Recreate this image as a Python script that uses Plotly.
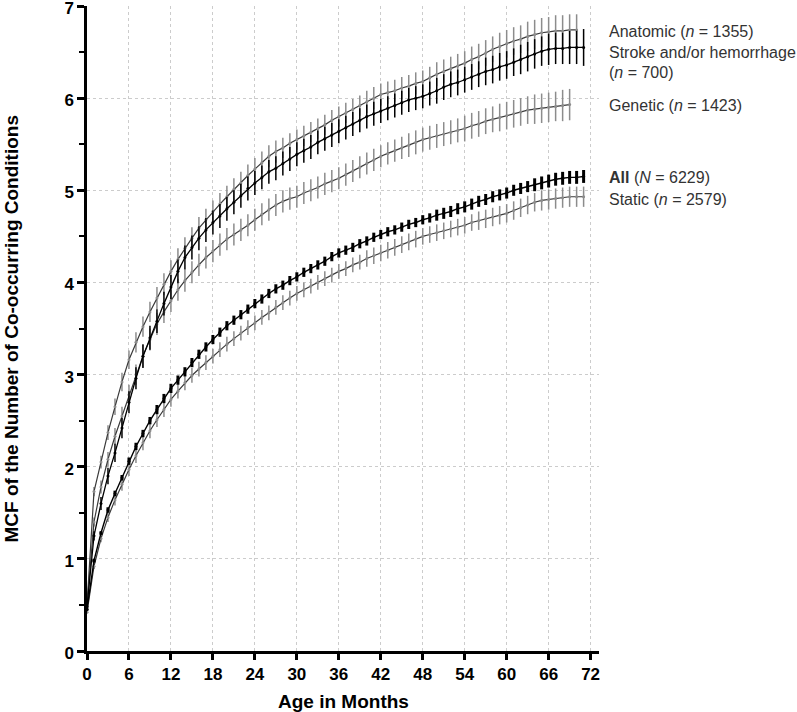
import plotly.graph_objects as go

# ---------------- data ----------------
months_anat = list(range(0, 71))
anatomic = [0.50, 1.73, 2.05, 2.37, 2.65, 2.92, 3.16, 3.35, 3.52, 3.68,
            3.83, 3.98, 4.12, 4.25, 4.37, 4.48, 4.59, 4.68, 4.77, 4.85,
            4.93, 5.01, 5.08, 5.16, 5.23, 5.30, 5.37, 5.42, 5.46, 5.51,
            5.55, 5.59, 5.63, 5.67, 5.71, 5.76, 5.80, 5.84, 5.88, 5.92,
            5.96, 6.00, 6.04, 6.06, 6.08, 6.11, 6.13, 6.16, 6.18, 6.22,
            6.26, 6.29, 6.32, 6.35, 6.38, 6.42, 6.45, 6.49, 6.53, 6.56,
            6.59, 6.62, 6.64, 6.67, 6.69, 6.71, 6.72, 6.73, 6.73, 6.74,
            6.74]
anatomic_err = [0.02, 0.05, 0.07, 0.08, 0.09, 0.10, 0.10, 0.11, 0.11, 0.11,
                0.12, 0.12, 0.12, 0.12, 0.12, 0.12, 0.12, 0.12, 0.12, 0.12,
                0.12, 0.12, 0.12, 0.12, 0.12, 0.12, 0.12, 0.12, 0.11, 0.11,
                0.11, 0.11, 0.11, 0.11, 0.11, 0.11, 0.11, 0.11, 0.11, 0.11,
                0.12, 0.12, 0.12, 0.12, 0.12, 0.12, 0.12, 0.12, 0.12, 0.12,
                0.13, 0.13, 0.13, 0.13, 0.13, 0.14, 0.14, 0.14, 0.14, 0.15,
                0.15, 0.15, 0.15, 0.16, 0.16, 0.16, 0.16, 0.17, 0.17, 0.17,
                0.17]

months_stroke = list(range(0, 72))
stroke = [0.48, 1.25, 1.60, 1.90, 2.15, 2.42, 2.70, 2.96, 3.20, 3.40,
          3.58, 3.77, 3.95, 4.12, 4.27, 4.38, 4.48, 4.57, 4.65, 4.72,
          4.80, 4.87, 4.94, 5.02, 5.08, 5.14, 5.20, 5.24, 5.29, 5.34,
          5.39, 5.43, 5.47, 5.52, 5.56, 5.60, 5.64, 5.68, 5.72, 5.76,
          5.80, 5.83, 5.86, 5.89, 5.92, 5.95, 5.98, 6.00, 6.02, 6.05,
          6.08, 6.12, 6.15, 6.17, 6.20, 6.23, 6.26, 6.29, 6.31, 6.34,
          6.36, 6.39, 6.42, 6.45, 6.48, 6.51, 6.53, 6.54, 6.54, 6.55,
          6.55, 6.55]
stroke_err = [0.02, 0.05, 0.07, 0.09, 0.10, 0.11, 0.12, 0.12, 0.13, 0.13,
              0.13, 0.13, 0.13, 0.13, 0.13, 0.13, 0.13, 0.13, 0.13, 0.13,
              0.13, 0.13, 0.13, 0.13, 0.13, 0.13, 0.13, 0.13, 0.13, 0.13,
              0.13, 0.13, 0.13, 0.13, 0.13, 0.13, 0.13, 0.13, 0.13, 0.13,
              0.13, 0.13, 0.13, 0.13, 0.13, 0.13, 0.13, 0.13, 0.13, 0.13,
              0.14, 0.14, 0.14, 0.14, 0.14, 0.14, 0.14, 0.15, 0.15, 0.15,
              0.15, 0.15, 0.16, 0.16, 0.16, 0.16, 0.17, 0.17, 0.17, 0.18,
              0.18, 0.20]

months_gen = list(range(0, 70))
genetic = [0.50, 1.40, 1.78, 2.08, 2.33, 2.55, 2.78, 3.00, 3.20, 3.38,
           3.55, 3.68, 3.80, 3.92, 4.02, 4.11, 4.19, 4.27, 4.34, 4.41,
           4.47, 4.52, 4.57, 4.62, 4.68, 4.74, 4.79, 4.84, 4.88, 4.91,
           4.93, 4.97, 5.00, 5.03, 5.07, 5.10, 5.13, 5.17, 5.21, 5.25,
           5.29, 5.33, 5.37, 5.40, 5.43, 5.46, 5.49, 5.52, 5.55, 5.57,
           5.59, 5.61, 5.63, 5.65, 5.67, 5.70, 5.72, 5.75, 5.77, 5.79,
           5.81, 5.83, 5.85, 5.87, 5.88, 5.89, 5.90, 5.91, 5.92, 5.93]
genetic_err = [0.02, 0.05, 0.07, 0.08, 0.09, 0.10, 0.11, 0.11, 0.12, 0.12,
               0.12, 0.12, 0.12, 0.12, 0.12, 0.12, 0.12, 0.12, 0.12, 0.12,
               0.12, 0.12, 0.12, 0.12, 0.12, 0.12, 0.12, 0.12, 0.12, 0.12,
               0.12, 0.12, 0.12, 0.12, 0.12, 0.12, 0.12, 0.12, 0.12, 0.12,
               0.12, 0.12, 0.12, 0.12, 0.12, 0.12, 0.13, 0.13, 0.13, 0.13,
               0.13, 0.13, 0.13, 0.13, 0.14, 0.14, 0.14, 0.14, 0.14, 0.15,
               0.15, 0.15, 0.15, 0.15, 0.16, 0.16, 0.16, 0.16, 0.17, 0.17]

months_all = list(range(0, 72))
all_mcf = [0.45, 0.98, 1.28, 1.53, 1.71, 1.88, 2.06, 2.22, 2.36, 2.50,
           2.62, 2.74, 2.85, 2.94, 3.03, 3.13, 3.22, 3.30, 3.38, 3.46,
           3.53, 3.59, 3.65, 3.71, 3.77, 3.82, 3.88, 3.93, 3.97, 4.02,
           4.06, 4.11, 4.15, 4.19, 4.23, 4.28, 4.32, 4.35, 4.38, 4.42,
           4.45, 4.49, 4.52, 4.55, 4.57, 4.60, 4.63, 4.65, 4.68, 4.70,
           4.73, 4.75, 4.77, 4.80, 4.82, 4.85, 4.88, 4.90, 4.93, 4.95,
           4.97, 5.00, 5.02, 5.04, 5.06, 5.08, 5.10, 5.12, 5.13, 5.14,
           5.14, 5.15]
all_err = [0.01, 0.02, 0.02, 0.03, 0.03, 0.03, 0.04, 0.04, 0.04, 0.04,
           0.05, 0.05, 0.05, 0.05, 0.05, 0.05, 0.05, 0.05, 0.05, 0.05,
           0.05, 0.05, 0.05, 0.05, 0.05, 0.05, 0.05, 0.05, 0.05, 0.05,
           0.05, 0.05, 0.05, 0.05, 0.05, 0.05, 0.05, 0.05, 0.05, 0.05,
           0.05, 0.05, 0.05, 0.05, 0.05, 0.05, 0.05, 0.05, 0.05, 0.05,
           0.06, 0.06, 0.06, 0.06, 0.06, 0.06, 0.06, 0.06, 0.06, 0.06,
           0.06, 0.06, 0.06, 0.06, 0.07, 0.07, 0.07, 0.07, 0.07, 0.07,
           0.07, 0.07]

months_static = list(range(0, 72))
static = [0.42, 0.92, 1.22, 1.45, 1.64, 1.81, 1.97, 2.12, 2.26, 2.39,
          2.51, 2.62, 2.73, 2.82, 2.91, 2.99, 3.06, 3.13, 3.20, 3.27,
          3.33, 3.39, 3.45, 3.51, 3.56, 3.62, 3.67, 3.73, 3.78, 3.83,
          3.88, 3.92, 3.96, 4.00, 4.04, 4.08, 4.12, 4.15, 4.19, 4.22,
          4.26, 4.29, 4.32, 4.35, 4.38, 4.41, 4.44, 4.47, 4.50, 4.52,
          4.54, 4.56, 4.58, 4.60, 4.62, 4.65, 4.67, 4.69, 4.71, 4.73,
          4.75, 4.78, 4.81, 4.84, 4.87, 4.89, 4.90, 4.91, 4.92, 4.93,
          4.93, 4.93]
static_err = [0.01, 0.03, 0.04, 0.05, 0.06, 0.07, 0.07, 0.08, 0.08, 0.08,
              0.08, 0.08, 0.08, 0.08, 0.08, 0.08, 0.08, 0.08, 0.08, 0.08,
              0.08, 0.08, 0.08, 0.08, 0.08, 0.08, 0.08, 0.08, 0.08, 0.08,
              0.08, 0.08, 0.08, 0.08, 0.08, 0.08, 0.08, 0.08, 0.08, 0.08,
              0.09, 0.09, 0.09, 0.09, 0.09, 0.09, 0.09, 0.09, 0.09, 0.09,
              0.09, 0.09, 0.09, 0.09, 0.09, 0.09, 0.10, 0.10, 0.10, 0.10,
              0.10, 0.10, 0.10, 0.10, 0.10, 0.11, 0.11, 0.11, 0.11, 0.11,
              0.11, 0.11]

labels = ["Anatomic (<i>n</i> = 1355)",
          "Stroke and/or hemorrhage",
          "(<i>n</i> = 700)",
          "Genetic (<i>n</i> = 1423)",
          "<b>All</b> (<i>N</i> = 6229)",
          "Static (<i>n</i> = 2579)"]
label_y = [6.72, 6.49, 6.28, 5.92, 5.14, 4.90]

x_ticks = list(range(0, 73, 6))
y_ticks = list(range(0, 8))
x_title = "Age in Months"
y_title = "MCF of the Number of Co-occurring Conditions"

# ---------------- figure ----------------
FONT = "Liberation Sans, Arial, Helvetica, sans-serif"
GRAY_BAR = "#8c8c8c"
GRAY_LINE = "#3a3a3a"

fig = go.Figure()


def add_series(x, y, err, line_color, bar_color, bar_w, line_w, marker_color):
    fig.add_trace(go.Scatter(
        x=x, y=y, mode="lines+markers",
        line=dict(color=line_color, width=line_w),
        marker=dict(color=marker_color, size=3),
        error_y=dict(type="data", array=err, visible=True, color=bar_color,
                     thickness=bar_w, width=0),
        showlegend=False, hoverinfo="skip", cliponaxis=False))


add_series(months_static, static, static_err, GRAY_LINE, GRAY_BAR, 1.5, 1.2, "#8c8c8c")
add_series(months_gen, genetic, genetic_err, GRAY_LINE, GRAY_BAR, 1.5, 1.2, "#8c8c8c")
add_series(months_anat, anatomic, anatomic_err, GRAY_LINE, GRAY_BAR, 1.5, 1.2, "#8c8c8c")
add_series(months_stroke, stroke, stroke_err, "#000000", "#000000", 1.5, 1.3, "#000000")
add_series(months_all, all_mcf, all_err, "#000000", "#000000", 3, 1.4, "#000000")

for txt, yv in zip(labels, label_y):
    fig.add_annotation(x=1.0156, xref="paper", y=yv, yref="y", text=txt,
                       showarrow=False, xanchor="left", yanchor="middle",
                       font=dict(family=FONT, size=16, color="#333333"))

# axis titles as annotations for exact placement
fig.add_annotation(x=0.5, xref="paper", y=-0.079, yref="paper",
                   text=f"<b>{x_title}</b>", showarrow=False,
                   xanchor="center", yanchor="middle",
                   font=dict(family=FONT, size=19, color="black"))
fig.add_annotation(x=-0.1465, xref="paper", y=0.5, yref="paper",
                   text=f"<b>{y_title}</b>", showarrow=False, textangle=-90,
                   xanchor="center", yanchor="middle",
                   font=dict(family=FONT, size=19, color="black"))

fig.update_layout(
    width=797, height=712,
    margin=dict(l=87, r=198, t=6, b=61, autoexpand=False),
    paper_bgcolor="white", plot_bgcolor="white",
    font=dict(family=FONT, color="black"),
)

fig.update_xaxes(
    range=[0, 73.2], tickvals=x_ticks, ticktext=[f"<b>{v}</b>" for v in x_ticks],
    tickfont=dict(size=17, family=FONT, color="black"),
    showline=True, linecolor="black", linewidth=2.5,
    ticks="outside", ticklen=6, tickwidth=2.5, tickcolor="black",
    showgrid=True, gridcolor="#cccccc", griddash="dot", gridwidth=1,
    zeroline=False, automargin=False, ticklabeloverflow="allow",
)
fig.update_yaxes(
    range=[0, 7], tickvals=y_ticks, ticktext=[f"<b>{v}</b>" for v in y_ticks],
    tickfont=dict(size=17, family=FONT, color="black"),
    showline=True, linecolor="black", linewidth=2.5,
    ticks="outside", ticklen=7, tickwidth=2.5, tickcolor="black",
    minor=dict(dtick=0.5, ticks="outside", ticklen=5, tickwidth=2, tickcolor="black", showgrid=False),
    showgrid=True, gridcolor="#cccccc", griddash="dot", gridwidth=1,
    zeroline=False, automargin=False, ticklabeloverflow="allow",
    ticklabelshift=2,
)

fig.write_html(
    "out.html",
    config={"displayModeBar": False},
    post_script="document.body.style.margin='0px';document.body.style.padding='0px';"
                "document.body.style.overflow='hidden';",
)
